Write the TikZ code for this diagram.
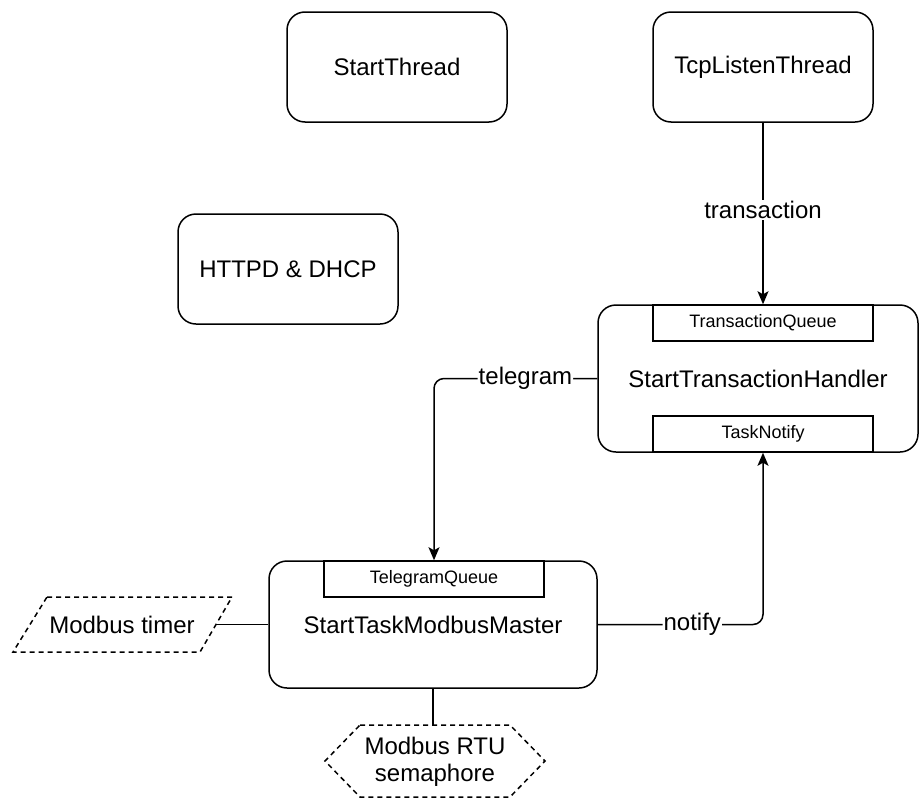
\documentclass[tikz,border=0pt]{standalone}
\usepackage{fontspec}
\setmainfont{Liberation Sans}
\usetikzlibrary{arrows.meta}
\begin{document}
\begin{tikzpicture}[x=1pt,y=-1pt,
  lw/.style={line width=1.5pt},
  task/.style={draw, lw, rounded corners=18pt, inner sep=0pt, font=\fontsize{24}{28}\selectfont, align=center},
  queue/.style={draw, lw, fill=white, inner sep=0pt, minimum width=220pt, minimum height=36pt, font=\fontsize{18}{21}\selectfont},
  conn/.style={lw, draw},
  arr/.style={-{Stealth[length=13pt,width=11pt,inset=3pt]}},
  elabel/.style={fill=white, inner sep=1pt, font=\fontsize{24}{28}\selectfont},
  dshape/.style={lw, dash pattern=on 5pt off 4pt},
  plain/.style={font=\fontsize{24}{27}\selectfont, align=center, inner sep=0pt},
]
\useasboundingbox (0,0) rectangle (920,798);

% task boxes
\node[task, minimum width=220pt, minimum height=110pt] (st) at (397,67) {StartThread};
\node[task, minimum width=220pt, minimum height=110pt] (tcp) at (763,67) {TcpListenThread};
\node[task, minimum width=220pt, minimum height=110pt] (http) at (288,269) {HTTPD \& DHCP};
\node[task, minimum width=320pt, minimum height=147pt] (th) at (758,378.5) {StartTransactionHandler};
\node[queue] (tq) at (763,323) {TransactionQueue};
\node[queue] (tn) at (763,434) {TaskNotify};
\node[task, minimum width=328pt, minimum height=127pt] (mm) at (433,624.5) {StartTaskModbusMaster};
\node[queue] (tgq) at (434,579) {TelegramQueue};

% Modbus timer (parallelogram)
\draw[dshape] (47,597) -- (232,597) -- (200,652) -- (13,652) -- cycle;
\node[plain] (timer) at (122,624.5) {Modbus timer};
\coordinate (timerR) at (216,624.5);

% Modbus RTU semaphore (hexagon)
\draw[dshape] (360,725) -- (510,725) -- (545,761) -- (510,797) -- (360,797) -- (325,761) -- cycle;
\node[plain] (sema) at (435,762) {Modbus RTU\\semaphore};
\coordinate (semaTop) at (433,725);

% connectors
\draw[conn, arr] (tcp.south) -- node[elabel, pos=0.48] {transaction} (tq.north);
\draw[conn, arr, rounded corners=10pt] (th.west) -| node[elabel, pos=0.22] {telegram} (tgq.north);
\draw[conn, arr, rounded corners=10pt] (mm.east) -| node[elabel, pos=0.286] {notify} (tn.south);
\draw[conn] (timerR) -- (mm.west);
\draw[conn] (mm.south) -- (semaTop);
\end{tikzpicture}
\end{document}
